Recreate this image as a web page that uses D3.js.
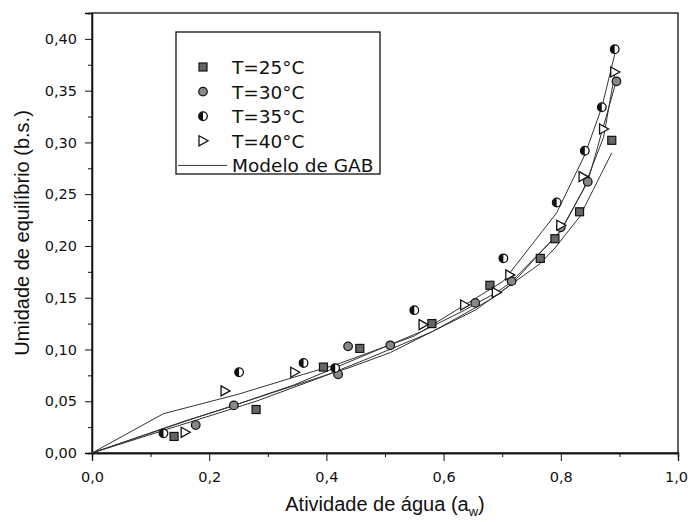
<!DOCTYPE html>
<html>
<head>
<meta charset="utf-8">
<script src="https://cdn.jsdelivr.net/npm/d3@7"></script>
<style>
  body { margin: 0; background: #fff; }
  text, tspan { font-family: "Liberation Sans", Arial, sans-serif; fill: #111; }
</style>
</head>
<body>
<svg id="chart" width="688" height="522"></svg>
<script>
// experimental points, [aw, Xeq]
var t25 = [[0.140,0.016],[0.280,0.042],[0.395,0.083],[0.457,0.101],[0.580,0.125],[0.679,0.162],[0.765,0.188],[0.790,0.207],[0.832,0.233],[0.887,0.302]];
var t30 = [[0.177,0.027],[0.242,0.046],[0.420,0.076],[0.437,0.103],[0.509,0.104],[0.654,0.145],[0.716,0.166],[0.800,0.218],[0.846,0.262],[0.895,0.359]];
var t35 = [[0.122,0.019],[0.251,0.078],[0.361,0.087],[0.415,0.082],[0.550,0.138],[0.702,0.188],[0.793,0.242],[0.841,0.292],[0.870,0.334],[0.892,0.390]];
var t40 = [[0.159,0.020],[0.227,0.060],[0.346,0.078],[0.565,0.124],[0.636,0.143],[0.690,0.155],[0.713,0.172],[0.800,0.220],[0.838,0.267],[0.873,0.313],[0.892,0.368]];

// GAB model lines
var gab25 = [[0,0],[0.140,0.025],[0.280,0.050],[0.395,0.074],[0.457,0.088],[0.580,0.117],[0.679,0.148],[0.765,0.183],[0.790,0.198],[0.832,0.228],[0.887,0.290]];
var gab30 = [[0,0],[0.177,0.034],[0.242,0.046],[0.420,0.079],[0.437,0.082],[0.509,0.097],[0.654,0.138],[0.716,0.163],[0.800,0.215],[0.846,0.262],[0.895,0.360]];
var gab35 = [[0,0],[0.122,0.038],[0.251,0.057],[0.361,0.076],[0.415,0.085],[0.550,0.113],[0.702,0.166],[0.793,0.232],[0.841,0.288],[0.870,0.334],[0.892,0.385]];
var gab40 = [[0,0],[0.159,0.031],[0.227,0.043],[0.346,0.066],[0.565,0.118],[0.636,0.138],[0.690,0.155],[0.713,0.164],[0.800,0.214],[0.838,0.254],[0.873,0.305],[0.892,0.366]];

var legendLabels = ["T=25°C", "T=30°C", "T=35°C", "T=40°C", "Modelo de GAB"];
var xTicks = [0, 0.2, 0.4, 0.6, 0.8, 1.0];
var yTicks = [0, 0.05, 0.10, 0.15, 0.20, 0.25, 0.30, 0.35, 0.40];

var svg = d3.select("#chart");
var mLeft = 92, mRight = 678, mTop = 13, mBottom = 453;

var x = d3.scaleLinear().domain([0, 1]).range([mLeft, mRight]);
var y = d3.scaleLinear().domain([0, 0.425]).range([mBottom, mTop]);
var fmt = function (d) { return d3.format(".1f")(d).replace(".", ","); };
var fmtY = function (d) { return d3.format(".2f")(d).replace(".", ","); };

// frame
svg.append("rect")
  .attr("x", mLeft).attr("y", mTop)
  .attr("width", mRight - mLeft).attr("height", mBottom - mTop)
  .attr("fill", "none").attr("stroke", "#111").attr("stroke-width", 1.3);

// axes
var xAx = svg.append("g")
  .attr("transform", "translate(0," + mBottom + ")")
  .call(d3.axisBottom(x).tickValues(xTicks).tickFormat(fmt).tickSize(8).tickPadding(11));
svg.append("g")
  .attr("transform", "translate(0," + mBottom + ")")
  .call(d3.axisBottom(x).tickValues([0.1, 0.3, 0.5, 0.7, 0.9]).tickFormat("").tickSize(4));
svg.append("g")
  .attr("transform", "translate(" + mLeft + ",0)")
  .call(d3.axisLeft(y).tickValues(yTicks).tickFormat(fmtY).tickSize(7).tickPadding(8));
svg.append("g")
  .attr("transform", "translate(" + mLeft + ",0)")
  .call(d3.axisLeft(y).tickValues([0.025, 0.075, 0.125, 0.175, 0.225, 0.275, 0.325, 0.375]).tickFormat("").tickSize(4));
svg.selectAll(".domain").attr("stroke", "#111").attr("stroke-width", 1.3);
svg.selectAll(".tick line").attr("stroke", "#111");
svg.selectAll(".tick text")
  .style("font-family", "'DejaVu Sans', sans-serif")
  .style("font-size", "14.5px").attr("fill", "#222");
// keep the last label inside the page
xAx.selectAll(".tick text").filter(function (d) { return d == 1; }).attr("x", -2);

// axis titles
var xt = svg.append("text")
  .attr("x", 385).attr("y", 511)
  .attr("text-anchor", "middle")
  .style("font-size", "20px");
xt.append("tspan").text("Atividade de água (a");
xt.append("tspan").attr("dy", 5).style("font-size", "13px").text("w");
xt.append("tspan").attr("dy", -5).text(")");

svg.append("text")
  .attr("transform", "translate(29," + (mTop + mBottom) / 2 + ") rotate(-90)")
  .attr("text-anchor", "middle")
  .style("font-size", "20px")
  .text("Umidade de equilíbrio (b.s.)");

// model lines
var line = d3.line().x(function (d) { return x(d[0]); }).y(function (d) { return y(d[1]); });
[gab25, gab30, gab35, gab40].forEach(function (g) {
  svg.append("path").datum(g)
    .attr("d", line)
    .attr("fill", "none")
    .attr("stroke", "#333")
    .attr("stroke-width", 1);
});

// markers
function drawMarker(sel, kind) {
  if (kind == 0) {
    sel.append("rect").attr("x", -4).attr("y", -4).attr("width", 8).attr("height", 8)
      .attr("fill", "#666").attr("stroke", "#111").attr("stroke-width", 1.2);
  } else if (kind == 1) {
    sel.append("circle").attr("r", 4.3)
      .attr("fill", "#888").attr("stroke", "#111").attr("stroke-width", 1.2);
  } else if (kind == 2) {
    sel.append("circle").attr("r", 4.3)
      .attr("fill", "#fff").attr("stroke", "#111").attr("stroke-width", 1.3);
    sel.append("path").attr("d", "M0,-4.3A4.3,4.3 0 0,0 0,4.3Z").attr("fill", "#111");
  } else {
    sel.append("path").attr("d", "M-4,-5L5,0L-4,5Z")
      .attr("fill", "#fff").attr("stroke", "#111").attr("stroke-width", 1.3);
  }
}

[t25, t30, t35, t40].forEach(function (data, i) {
  svg.append("g").selectAll("g")
    .data(data)
    .enter()
    .append("g")
    .attr("transform", function (d) { return "translate(" + x(d[0]) + "," + y(d[1]) + ")"; })
    .each(function () { drawMarker(d3.select(this), i); });
});

// legend
var lg = svg.append("g");
lg.append("rect")
  .attr("x", 176).attr("y", 32).attr("width", 204).attr("height", 142)
  .attr("fill", "#fff").attr("stroke", "#111").attr("stroke-width", 1.3);
legendLabels.forEach(function (lab, i) {
  var ly = 67 + i * 24.6;
  if (i < 4) {
    var m = lg.append("g").attr("transform", "translate(203," + ly + ")");
    drawMarker(m, i);
  } else {
    lg.append("line").attr("x1", 178).attr("x2", 227).attr("y1", ly).attr("y2", ly)
      .attr("stroke", "#333").attr("stroke-width", 1);
  }
  lg.append("text").attr("x", 232).attr("y", ly + 7)
    .style("font-family", "'DejaVu Sans', sans-serif")
    .style("font-size", "18.5px")
    .text(lab);
});
</script>
</body>
</html>
